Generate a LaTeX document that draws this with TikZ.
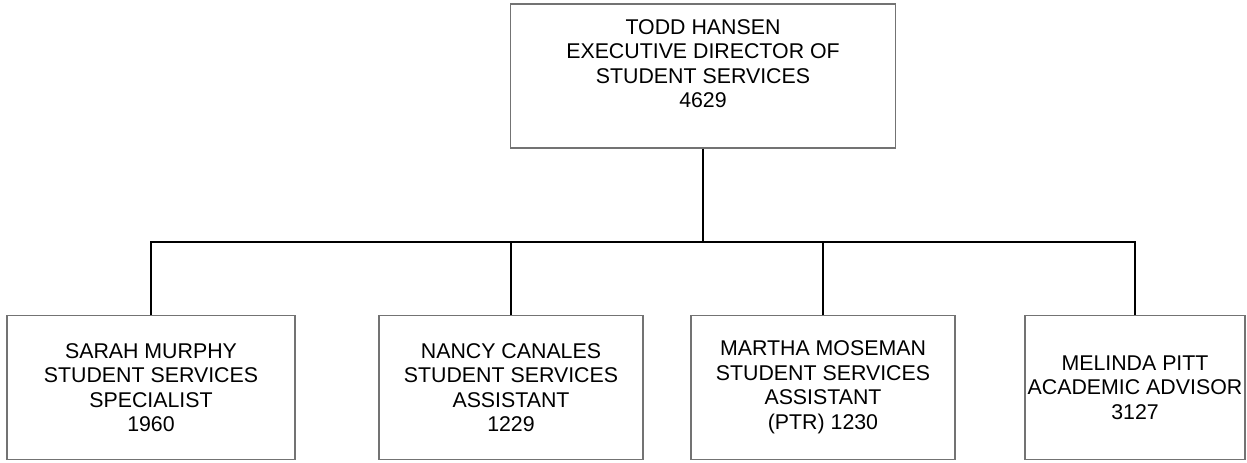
\documentclass[tikz,border=0pt]{standalone}
\usepackage{fontspec}
\setmainfont{Liberation Sans}
\usetikzlibrary{arrows.meta}

\begin{document}
\begin{tikzpicture}[x=0.75pt, y=0.75pt, every node/.style={draw=black!55, line width=0.8pt, align=center, font=\fontsize{16}{18.4}\selectfont, minimum height=107.5pt, inner sep=0pt}, link/.style={line width=1.3pt}]
    \useasboundingbox (0,0) rectangle (1247,463);
    \node[minimum width=288.75pt, minimum height=108pt] (hansen) at (703,387) {TODD HANSEN\\EXECUTIVE DIRECTOR OF\\STUDENT SERVICES\\4629\\ \mbox{}};
    \node[minimum width=216pt] (murphy) at (151,75.5) {SARAH MURPHY\\STUDENT SERVICES\\SPECIALIST\\1960};
    \node[minimum width=198pt] (canales) at (511,75.5) {NANCY CANALES\\STUDENT SERVICES\\ASSISTANT\\1229};
    \node[minimum width=198pt] (moseman) at (823,75.5) {MARTHA MOSEMAN\\STUDENT SERVICES\\ASSISTANT\\(PTR) 1230};
    \node[minimum width=165pt] (pitt) at (1135,75.5) {MELINDA PITT\\ACADEMIC ADVISOR\\3127};
    \coordinate (bus) at (703,221);
        \draw[link] (hansen) -- (bus);
        \draw[link] (murphy) |- (bus) -| (pitt);
        \draw[link] (canales) -- (canales |- bus);
        \draw[link] (moseman) -- (moseman |- bus);
\end{tikzpicture}
\end{document}
